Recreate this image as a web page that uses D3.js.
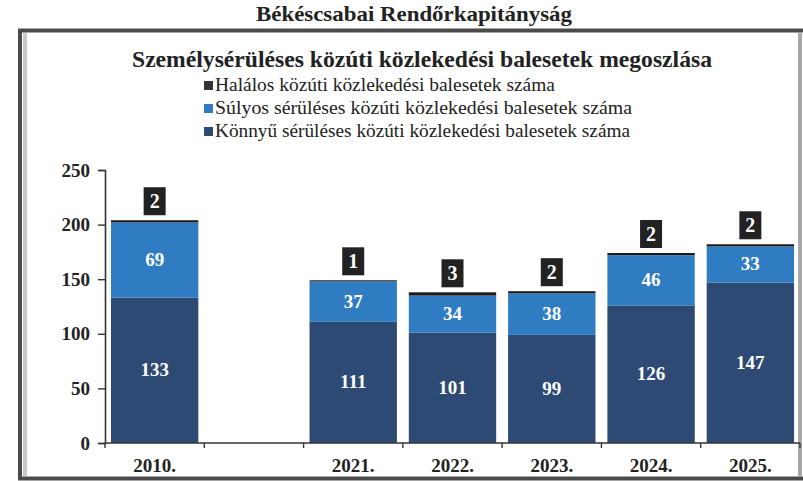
<!DOCTYPE html>
<html>
<head>
<meta charset="utf-8">
<script src="https://cdn.jsdelivr.net/npm/d3@7"></script>
<style>
  body { margin: 0; background: #fff; }
  svg text { font-family: "Liberation Serif", "DejaVu Serif", serif; }
</style>
</head>
<body>
<div id="chart"></div>
<script>
const years = ['2010.', '', '2021.', '2022.', '2023.', '2024.', '2025.'];
const light = [133, null, 111, 101, 99, 126, 147];
const severe = [69, null, 37, 34, 38, 46, 33];
const fatal = [2, null, 1, 3, 2, 2, 2];
const yTicks = [0, 50, 100, 150, 200, 250];
const seriesNames = [
  'Halálos közúti közlekedési balesetek száma',
  'Súlyos sérüléses közúti közlekedési balesetek száma',
  'Könnyű sérüléses közúti közlekedési balesetek száma'
];

const colors = {light: '#2c4a74', severe: '#2f7cc3', fatal: '#1c1c1c'};
const serif = '"Liberation Serif", "DejaVu Serif", serif';

const draw = () => {
  const W = 803, H = 481;
  const margin = {top: 170, right: 3, bottom: 38, left: 105};
  const width = W - margin.left - margin.right;
  const height = H - margin.top - margin.bottom;

  const svg = d3.select('#chart')
    .append('svg')
    .attr('width', W)
    .attr('height', H);

  // outer frame
  svg.append('rect')
    .attr('x', 20).attr('y', 30.5)
    .attr('width', 800).attr('height', 448)
    .attr('fill', 'none')
    .attr('stroke', '#4a4a4a')
    .attr('stroke-width', 4);
  svg.append('line')
    .attr('x1', 25).attr('x2', 25).attr('y1', 33).attr('y2', 476)
    .attr('stroke', '#c8c8c8').attr('stroke-width', 4);
  svg.append('line')
    .attr('x1', 800).attr('x2', 800).attr('y1', 33).attr('y2', 476)
    .attr('stroke', '#a8a8a8').attr('stroke-width', 4);

  svg.append('text')
    .attr('x', 414).attr('y', 21)
    .attr('text-anchor', 'middle')
    .attr('font-family', serif)
    .attr('font-weight', 'bold')
    .attr('font-size', 21)
    .attr('textLength', 316)
    .attr('lengthAdjust', 'spacingAndGlyphs')
    .attr('fill', '#222')
    .text('Békéscsabai Rendőrkapitányság');

  svg.append('text')
    .attr('x', 422).attr('y', 67)
    .attr('text-anchor', 'middle')
    .attr('font-family', serif)
    .attr('font-weight', 'bold')
    .attr('font-size', 23)
    .attr('textLength', 580)
    .attr('lengthAdjust', 'spacingAndGlyphs')
    .attr('fill', '#222')
    .text('Személysérüléses közúti közlekedési balesetek megoszlása');

  const legColors = ['#333', colors.severe, colors.light];
  const legWidths = [340, 417, 415];
  const leg = svg.append('g').attr('transform', 'translate(204, 87)');
  seriesNames.forEach((name, i) => {
    const g = leg.append('g').attr('transform', `translate(0, ${i * 23})`);
    g.append('rect')
      .attr('x', 0).attr('y', -6)
      .attr('width', 9).attr('height', 9)
      .attr('fill', legColors[i]);
    g.append('text')
      .attr('x', 11).attr('y', 4)
      .attr('font-family', serif)
      .attr('font-size', 19)
      .attr('textLength', legWidths[i])
      .attr('lengthAdjust', 'spacingAndGlyphs')
      .attr('fill', '#222')
      .text(name);
  });

  const chart = svg.append('g')
    .attr('transform', `translate(${margin.left}, ${margin.top})`);

  const x = d3.scaleBand()
    .domain(d3.range(years.length))
    .range([0, width])
    .paddingInner(0.12)
    .paddingOuter(0.06);
  const step = width / years.length;
  const y = d3.scaleLinear()
    .domain([0, 250])
    .range([height, 0]);

  const data = years.map((yr, i) => ({
    i, yr, light: light[i], severe: severe[i], fatal: fatal[i]
  })).filter(d => d.light != null);

  const stack = d3.stack().keys(['light', 'severe', 'fatal'])(data);

  chart.selectAll('.layer')
    .data(stack)
    .join('g')
    .attr('class', 'layer')
    .attr('fill', s => colors[s.key])
    .selectAll('rect')
    .data(s => s)
    .join('rect')
    .attr('x', d => x(d.data.i))
    .attr('y', d => y(d[1]))
    .attr('width', x.bandwidth())
    .attr('height', d => y(d[0]) - y(d[1]));

  // labels inside segments
  ['light', 'severe'].forEach((key, k) => {
    chart.selectAll('.lbl-' + key)
      .data(stack[k])
      .join('text')
      .attr('class', 'lbl-' + key)
      .attr('x', d => x(d.data.i) + x.bandwidth() / 2)
      .attr('y', d => y((d[0] + d[1]) / 2) + 6)
      .attr('text-anchor', 'middle')
      .attr('font-family', serif)
      .attr('font-weight', 'bold')
      .attr('font-size', 19)
      .attr('fill', '#fff')
      .text(d => d.data[key]);
  });

  // fatal label boxes
  const fl = chart.selectAll('.fatal-lbl')
    .data(stack[2])
    .join('g')
    .attr('class', 'fatal-lbl')
    .attr('transform', d => `translate(${x(d.data.i) + x.bandwidth() / 2}, ${y(d[1]) - 19})`);
  fl.append('rect')
    .attr('x', -11).attr('y', -14)
    .attr('width', 22).attr('height', 28)
    .attr('fill', '#222');
  fl.append('text')
    .attr('y', 7)
    .attr('text-anchor', 'middle')
    .attr('font-family', serif)
    .attr('font-weight', 'bold')
    .attr('font-size', 20)
    .attr('fill', '#fff')
    .text(d => d.data.fatal);

  // y axis
  const gy = chart.append('g')
    .call(d3.axisLeft(y).tickValues(yTicks).tickSize(7).tickPadding(8));
  gy.select('.domain').attr('stroke', '#333').attr('stroke-width', 1.6);
  gy.selectAll('.tick line').attr('stroke', '#333').attr('stroke-width', 1.4);
  gy.selectAll('text')
    .attr('font-family', serif)
    .attr('font-weight', 'bold')
    .attr('font-size', 19)
    .attr('fill', '#222');

  // x axis
  const gx = chart.append('g')
    .attr('transform', `translate(0, ${height})`);
  gx.append('line')
    .attr('x1', 0).attr('x2', width)
    .attr('stroke', '#333').attr('stroke-width', 1.6);
  gx.selectAll('.xtick')
    .data(d3.range(years.length + 1))
    .join('line')
    .attr('class', 'xtick')
    .attr('x1', i => i * step).attr('x2', i => i * step)
    .attr('y1', 0).attr('y2', 5)
    .attr('stroke', '#333').attr('stroke-width', 1.4);
  gx.selectAll('.xlbl')
    .data(years)
    .join('text')
    .attr('class', 'xlbl')
    .attr('x', (d, i) => x(i) + x.bandwidth() / 2)
    .attr('y', 29)
    .attr('text-anchor', 'middle')
    .attr('font-family', serif)
    .attr('font-weight', 'bold')
    .attr('font-size', 19)
    .attr('fill', '#222')
    .text(d => d);
}

draw();
</script>
</body>
</html>
